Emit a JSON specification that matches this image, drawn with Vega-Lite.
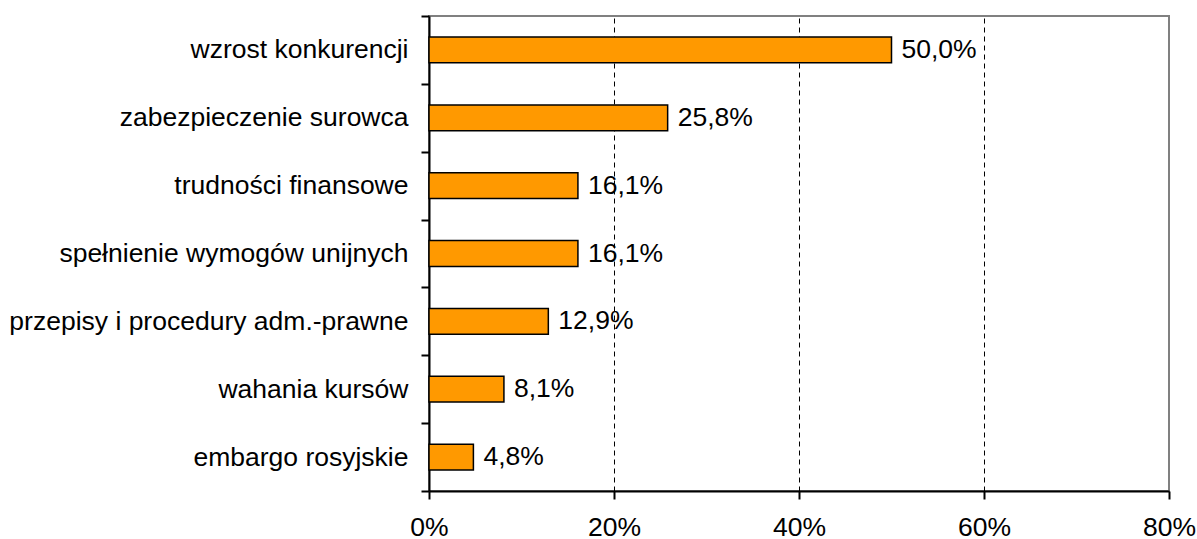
{
  "$schema": "https://vega.github.io/schema/vega-lite/v6.json",
  "width": 740,
  "height": 475,
  "autosize": {"type": "none"},
  "padding": {"left": 429, "top": 16, "right": 28, "bottom": 48},
  "config": {
    "locale": {"number": {"decimal": ",", "thousands": " ", "grouping": [3], "currency": ["", " zł"]}},
    "view": {"stroke": "#808080", "strokeWidth": 2},
    "font": "Liberation Sans"
  },
  "data": {
    "values": [
      {"kategoria": "wzrost konkurencji", "udzial": 0.5},
      {"kategoria": "zabezpieczenie surowca", "udzial": 0.258},
      {"kategoria": "trudności finansowe", "udzial": 0.161},
      {"kategoria": "spełnienie wymogów unijnych", "udzial": 0.161},
      {"kategoria": "przepisy i procedury adm.-prawne", "udzial": 0.129},
      {"kategoria": "wahania kursów", "udzial": 0.081},
      {"kategoria": "embargo rosyjskie", "udzial": 0.048}
    ]
  },
  "encoding": {
    "y": {
      "field": "kategoria",
      "type": "nominal",
      "sort": null,
      "scale": {"paddingInner": 0, "paddingOuter": 0},
      "axis": {
        "title": null,
        "tickBand": "extent",
        "domainColor": "black",
        "domainWidth": 2,
        "tickColor": "black",
        "tickWidth": 2,
        "tickSize": 8,
        "labelFontSize": 26.5,
        "labelColor": "black",
        "labelPadding": 13,
        "labelLimit": 0
      }
    },
    "x": {
      "field": "udzial",
      "type": "quantitative",
      "scale": {"domain": [0, 0.8], "nice": false},
      "axis": {
        "title": null,
        "format": ".0%",
        "values": [0, 0.2, 0.4, 0.6, 0.8],
        "grid": true,
        "gridColor": "black",
        "gridWidth": 1,
        "gridDash": [5, 4],
        "gridOpacity": {"condition": {"test": "datum.value == 0 || datum.value == 0.8", "value": 0}, "value": 1},
        "domainColor": "black",
        "domainWidth": 2,
        "tickColor": "black",
        "tickWidth": 2,
        "tickSize": 8,
        "labelFontSize": 26.5,
        "labelColor": "black",
        "labelPadding": 15,
        "labelFlush": false,
        "labelOverlap": false
      }
    }
  },
  "layer": [
    {
      "mark": {"type": "bar", "height": {"band": 0.38}, "color": "#FF9900", "stroke": "black", "strokeWidth": 1.5}
    },
    {
      "mark": {"type": "text", "align": "left", "baseline": "middle", "dx": 10, "fontSize": 26.5, "color": "black"},
      "encoding": {"text": {"field": "udzial", "type": "quantitative", "format": ".1%"}}
    }
  ]
}
